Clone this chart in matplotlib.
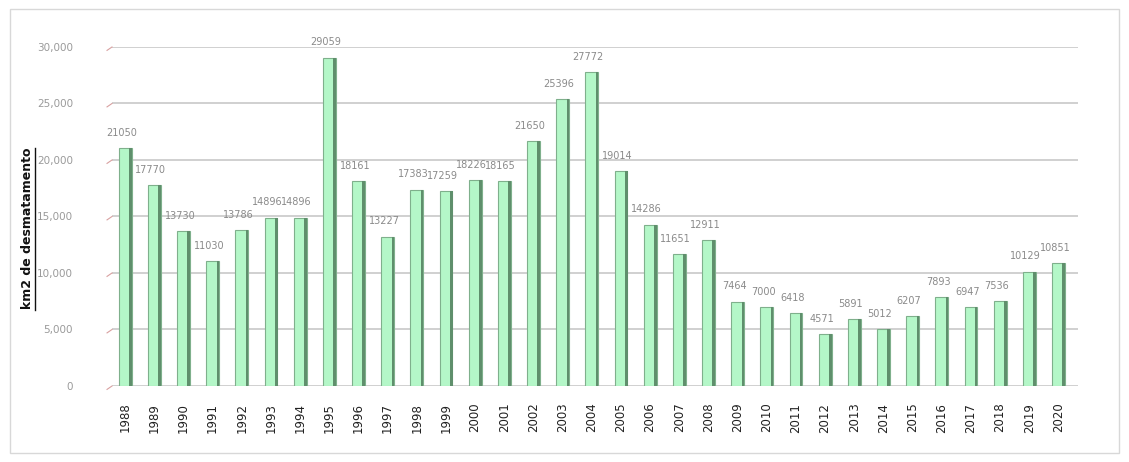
import matplotlib.pyplot as plt
from matplotlib.patches import Rectangle

years = [str(y) for y in range(1988, 2021)]
area = [21050, 17770, 13730, 11030, 13786, 14896, 14896, 29059, 18161, 13227,
        17383, 17259, 18226, 18165, 21650, 25396, 27772, 19014, 14286, 11651,
        12911, 7464, 7000, 6418, 4571, 5891, 5012, 6207, 7893, 6947,
        7536, 10129, 10851]
yticks = [0, 5000, 10000, 15000, 20000, 25000, 30000]
ytick_labels = ['0', '5,000', '10,000', '15,000', '20,000', '25,000', '30,000']

fig = plt.figure(figsize=(11.29, 4.62), dpi=100)
fig.patches.append(Rectangle((0.009, 0.02), 0.982, 0.96, transform=fig.transFigure,
                             fill=False, edgecolor='#d8d8d8', linewidth=1))
ax = fig.add_axes([0.0992, 0.1645, 0.8556, 0.7338])

x = list(range(len(years)))
# grid lines
for t in yticks:
    ax.axhline(t, color='#c8c8c8', linewidth=1.2, zorder=0)
    ax.plot([-0.62, -0.45], [t - 300, t], color='#d8a0a0', linewidth=0.8,
            clip_on=False, zorder=0)

# bars with a darker side to mimic the 3d look
ax.bar(x, area, width=0.44, color='#b4f7c8', edgecolor='#7fb08c', linewidth=0.8, zorder=2)
ax.bar([i + 0.18 for i in x], area, width=0.09, color='#5f8f6c', linewidth=0, zorder=3)

for i, v in enumerate(area):
    ax.text(i - 0.12, v + 900, str(v), ha='center', va='bottom', fontsize=7,
            color='#8a8a8a', zorder=4)

ax.set_xlim(-0.45, 32.67)
ax.set_ylim(0, 30000)
ax.set_yticks(yticks)
ax.set_yticklabels(ytick_labels, fontsize=7.5, color='#9a9a9a')
ax.set_xticks(x)
ax.set_xticklabels(years, rotation=90, fontsize=8.5, color='#222222')
ax.tick_params(axis='both', length=0)
ax.tick_params(axis='y', pad=28)
ax.tick_params(axis='x', pad=12)
for s in ax.spines.values():
    s.set_visible(False)

fig.text(0.024, 0.505, 'km2 de desmatamento', rotation=90, ha='center', va='center',
         fontsize=9, fontweight='bold', color='#111111')
fig.add_artist(plt.Line2D([0.031, 0.031], [0.33, 0.68], color='#111111', linewidth=1))

fig.savefig('out.png', dpi=100)
